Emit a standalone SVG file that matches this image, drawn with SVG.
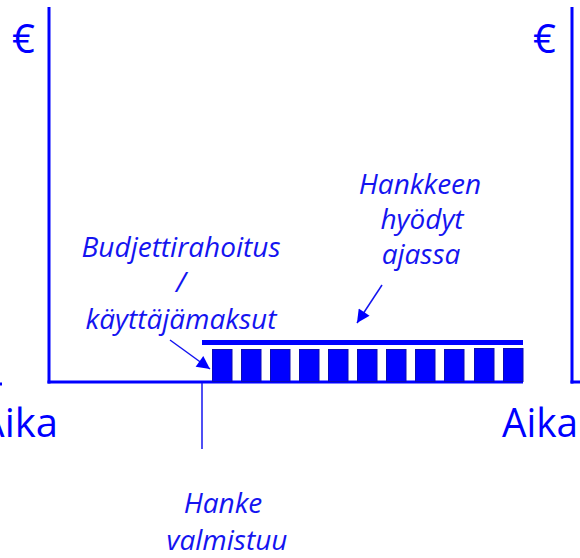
<svg xmlns="http://www.w3.org/2000/svg" width="580" height="558" viewBox="0 0 580 558">
  <style>
    .axis { stroke: #0000ff; stroke-width: 3; fill: none; }
    .lbl { font-family: "Open Sans", "Liberation Sans", sans-serif; font-style: italic; font-size: 28px; fill: #1414f0; text-anchor: middle; }
    .big { font-family: "Open Sans", "Liberation Sans", sans-serif; font-size: 40px; fill: #0000ff; }
    .bar { fill: #0000ff; stroke: #0a0ab4; stroke-width: 1; }
    .conn { stroke: #1414f0; stroke-width: 1.5; fill: none; }
  </style>
  <defs>
    <marker id="head" viewBox="0 0 10 10" refX="10" refY="5" markerWidth="14" markerHeight="13" markerUnits="userSpaceOnUse" orient="auto">
      <path d="M0,0 L10,5 L0,10 Z" fill="#0000ff"/>
    </marker>
  </defs>

  <!-- left chart frame -->
  <g id="left-axes">
    <line class="axis" x1="49" y1="7" x2="49" y2="383.5"/>
    <line class="axis" x1="47.5" y1="382" x2="523" y2="382"/>
    <line class="axis" x1="0" y1="384" x2="2" y2="384"/>
    <text class="big" x="12" y="53" font-size="42">€</text>
    <text class="big" x="58" y="437" text-anchor="end">Aika</text>
  </g>

  <!-- right chart frame (partly outside the view) -->
  <g id="right-axes">
    <line class="axis" x1="572" y1="7" x2="572" y2="383.5"/>
    <line class="axis" x1="570.5" y1="382" x2="580" y2="382"/>
    <text class="big" x="533" y="53" font-size="42">€</text>
    <text class="big" x="502" y="437" textLength="76" lengthAdjust="spacingAndGlyphs">Aika</text>
  </g>

  <!-- benefits over time: ceiling line and yearly bars -->
  <g id="benefits">
    <rect x="202" y="340" width="321" height="5" fill="#0000ff"/>
    <rect class="bar" x="212.5" y="349.5" width="19.5" height="32"/>
    <rect class="bar" x="241.5" y="349.5" width="19.5" height="32"/>
    <rect class="bar" x="270.5" y="349.5" width="19.5" height="32"/>
    <rect class="bar" x="299.5" y="349.5" width="19.5" height="32"/>
    <rect class="bar" x="328.5" y="349.5" width="19.5" height="32"/>
    <rect class="bar" x="357.5" y="349.5" width="19.5" height="32"/>
    <rect class="bar" x="386.5" y="349.5" width="19.5" height="32"/>
    <rect class="bar" x="415.5" y="349.5" width="19.5" height="32"/>
    <rect class="bar" x="444.5" y="349.5" width="19.5" height="32"/>
    <rect class="bar" x="474.5" y="348.5" width="19.5" height="33"/>
    <rect class="bar" x="503.5" y="348.5" width="19.5" height="33"/>
  </g>

  <g id="label-funding">
    <text class="lbl" x="181" y="257">Budjettirahoitus</text>
    <text class="lbl" x="181" y="292">/</text>
    <text class="lbl" x="181" y="329">käyttäjämaksut</text>
  </g>

  <g id="label-benefits">
    <text class="lbl" x="420" y="194">Hankkeen</text>
    <text class="lbl" x="422" y="229">hyödyt</text>
    <text class="lbl" x="421" y="264">ajassa</text>
  </g>

  <g id="label-completion">
    <text class="lbl" x="223" y="513">Hanke</text>
    <text class="lbl" x="227" y="550">valmistuu</text>
  </g>

  <g id="connectors">
    <line class="conn" x1="170" y1="340" x2="210" y2="369" marker-end="url(#head)"/>
    <line class="conn" x1="382" y1="285" x2="357" y2="323" marker-end="url(#head)"/>
    <line class="conn" x1="202" y1="383" x2="202" y2="449"/>
  </g>
</svg>
